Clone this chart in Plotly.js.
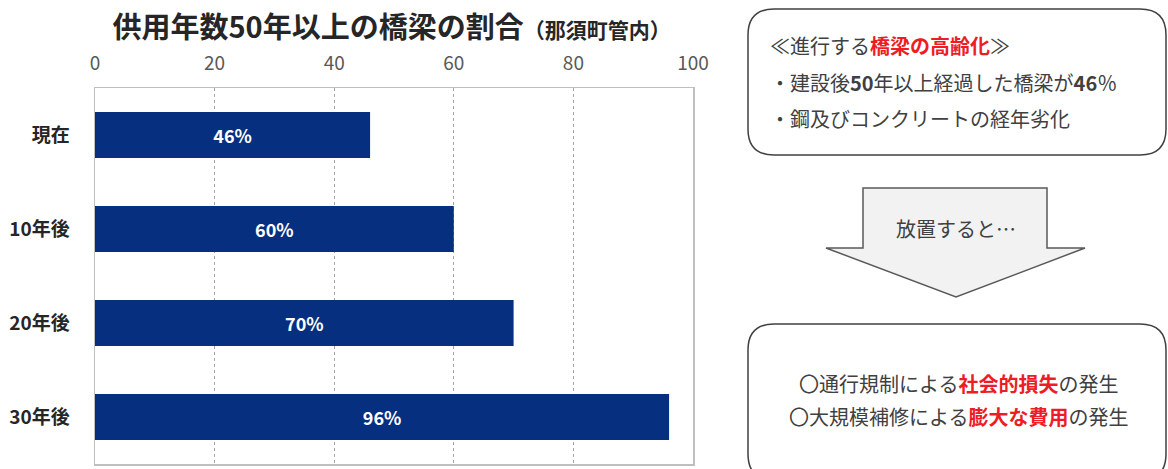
<!DOCTYPE html>
<html><head><meta charset="utf-8">
<script src="https://cdn.plot.ly/plotly-3.0.1.min.js"></script>
<style>html,body{margin:0;padding:0;background:#fff;}#chart{width:1168px;height:469px;}</style>
</head><body><div id="chart"></div>
<script>
const categories = ['現在', '10年後', '20年後', '30年後'];
const shareValues = [46, 60, 70, 96];
const barLabels = ['46%', '60%', '70%', '96%'];
const tickValues = [0, 20, 40, 60, 80, 100];

const W = 1168, H = 469, L = 95, R = 693, T = 88, B = 464;
function fx(x){ return (x - L) / (R - L); }
function fy(y){ return (B - y) / (B - T); }
function pt(x, y){ return fx(x).toFixed(5) + ',' + fy(y).toFixed(5); }
function roundRect(x0, y0, x1, y1, r){
  return 'M' + pt(x0 + r, y0) + ' L' + pt(x1 - r, y0) + ' Q' + pt(x1, y0) + ' ' + pt(x1, y0 + r) +
    ' L' + pt(x1, y1 - r) + ' Q' + pt(x1, y1) + ' ' + pt(x1 - r, y1) +
    ' L' + pt(x0 + r, y1) + ' Q' + pt(x0, y1) + ' ' + pt(x0, y1 - r) +
    ' L' + pt(x0, y0 + r) + ' Q' + pt(x0, y0) + ' ' + pt(x0 + r, y0) + ' Z';
}
const arrowPts = [[863,188],[1047,188],[1047,248],[1085,248],[956,297],[826,248],[863,248]];
const arrowPath = 'M' + arrowPts.map(p => pt(p[0], p[1])).join(' L') + ' Z';

const FONT = '"Noto Sans CJK JP", "Noto Sans", sans-serif';
const NARROW = '"Liberation Sans Narrow", "Noto Sans CJK JP", sans-serif';
const RED = '#ee1c25';
const TXT = '#404040';

function ann(text, x, y, anchor, size){
  return {text: text, xref: 'paper', yref: 'paper', x: fx(x), y: fy(y), xanchor: anchor, yanchor: 'middle',
    showarrow: false, font: {family: FONT, size: size, color: TXT}};
}

const trace = {
  type: 'bar', orientation: 'h', x: shareValues, y: categories,
  text: barLabels, textposition: 'inside', insidetextanchor: 'middle',
  textfont: {family: FONT, size: 18, color: '#ffffff', weight: 'bold'},
  marker: {color: '#06307f'}, hoverinfo: 'none', cliponaxis: false
};

const layout = {
  width: W, height: H,
  margin: {l: L, r: W - R, t: T, b: H - B, pad: 0},
  paper_bgcolor: '#ffffff', plot_bgcolor: '#ffffff',
  showlegend: false, bargap: 0.51,
  title: {text: '<b>供用年数50年以上の橋梁の割合</b><b><span style="font-size:21px">（那須町管内）</span></b>',
    xref: 'paper', x: 0.496, xanchor: 'center', yref: 'container', y: 1 - 28 / H, yanchor: 'middle',
    font: {family: FONT, size: 29, color: '#262626'}},
  xaxis: {side: 'top', range: [0, 100], tickvals: tickValues, ticktext: tickValues.map(String),
    showgrid: true, gridcolor: '#a6a6a6', griddash: 'dot', gridwidth: 1,
    showline: true, mirror: true, linecolor: '#bfbfbf', linewidth: 1.5, zeroline: false,
    ticks: 'outside', ticklen: 9, tickcolor: 'rgba(0,0,0,0)',
    tickfont: {family: NARROW, size: 19, color: '#595959'}, fixedrange: true},
  yaxis: {type: 'category', autorange: 'reversed', showgrid: false, zeroline: false,
    showline: true, mirror: true, linecolor: '#bfbfbf', linewidth: 1.5,
    ticks: 'outside', ticklen: 20, tickcolor: 'rgba(0,0,0,0)',
    tickfont: {family: FONT, size: 19, color: '#262626', weight: 'bold'}, fixedrange: true},
  shapes: [
    {type: 'path', xref: 'paper', yref: 'paper', path: roundRect(748, 9, 1166, 155, 26), line: {color: '#404040', width: 1.5}, fillcolor: 'rgba(0,0,0,0)'},
    {type: 'path', xref: 'paper', yref: 'paper', path: arrowPath, line: {color: '#595959', width: 1.5}, fillcolor: '#f2f2f2'},
    {type: 'path', xref: 'paper', yref: 'paper', path: roundRect(748, 324, 1166, 480, 26), line: {color: '#404040', width: 1.5}, fillcolor: 'rgba(0,0,0,0)'}
  ],
  annotations: [
    ann('≪進行する<b><span style="color:' + RED + '">橋梁の高齢化</span></b>≫', 768, 45, 'left', 20),
    ann('・建設後<b>50</b>年以上経過した橋梁が<b>46</b>％', 768, 82, 'left', 20),
    ann('・鋼及びコンクリートの経年劣化', 768, 118, 'left', 20),
    ann('放置すると…', 956, 228, 'center', 20),
    ann('〇通行規制による<b><span style="color:' + RED + '">社会的損失</span></b>の発生', 958, 383, 'center', 20),
    ann('〇大規模補修による<b><span style="color:' + RED + '">膨大な費用</span></b>の発生', 958, 416, 'center', 20)
  ]
};

Plotly.newPlot('chart', [trace], layout, {staticPlot: true, displayModeBar: false});
</script></body></html>
